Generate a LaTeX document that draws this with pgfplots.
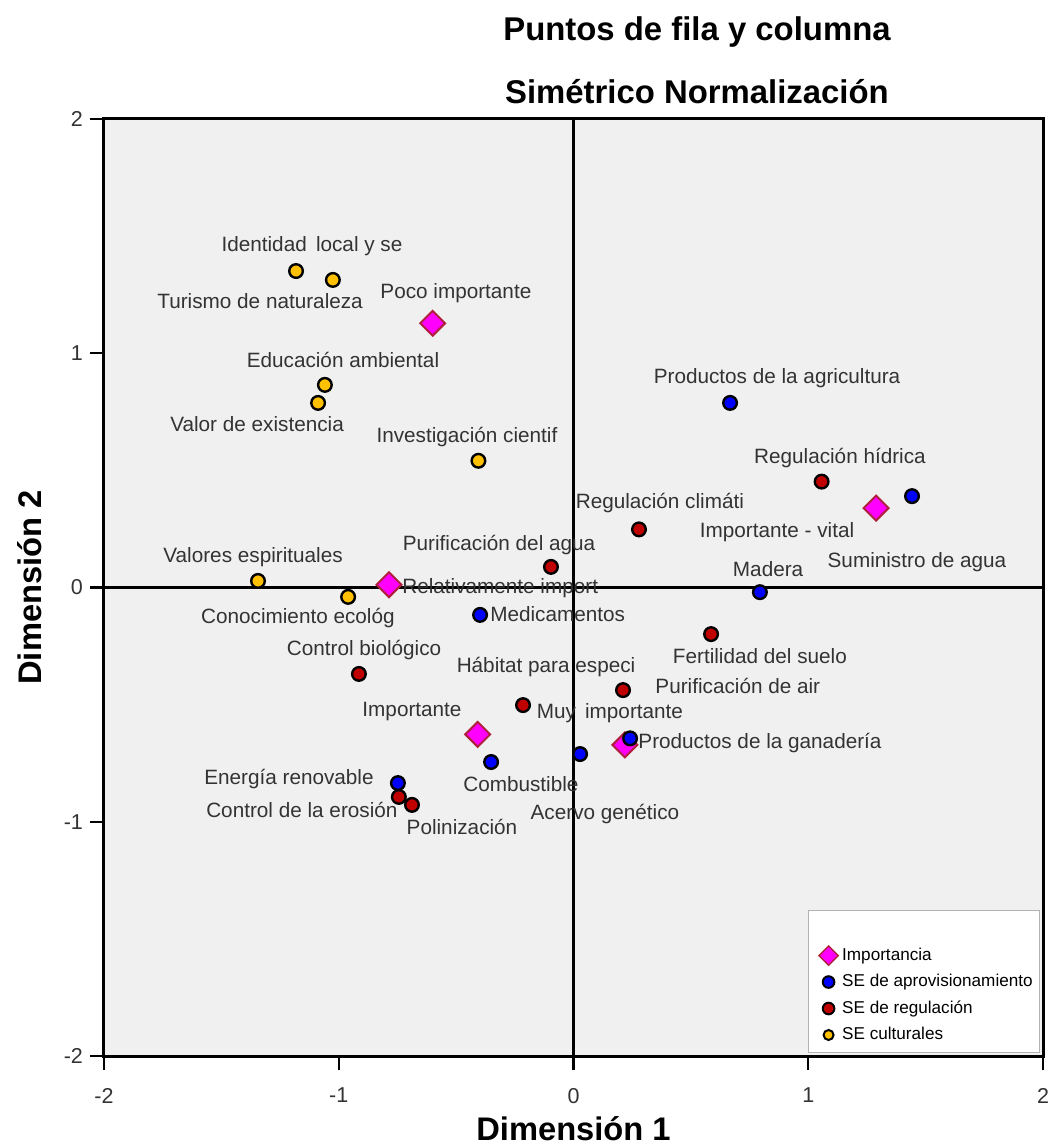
\documentclass[border=0pt]{standalone}
\usepackage{fontspec}
\setmainfont{Liberation Sans}
\usepackage{pgfplots}
\pgfplotsset{compat=1.18}
\definecolor{bggray}{HTML}{F0F0F0}
\definecolor{mkblue}{HTML}{0000FF}
\definecolor{mkred}{HTML}{C00000}
\definecolor{mkyellow}{HTML}{FFC000}
\definecolor{mkmag}{HTML}{FF00FF}
\definecolor{mkborder}{HTML}{B0203C}
\definecolor{lbl}{HTML}{333333}
\tikzset{lblnode/.style={font=\fontsize{10.4}{12}\selectfont, text=lbl, inner sep=0pt}}
\begin{document}
\begin{tikzpicture}
\path[use as bounding box] (-52bp,-45.5bp) rectangle (474bp,528bp);
\begin{axis}[
  width=469.5bp, height=468.5bp, scale only axis,
  xmin=-2, xmax=2, ymin=-2, ymax=2,
  axis background/.style={fill=bggray},
  axis line style={line width=1.5bp},
  xtick={-2,-1,0,1,2}, xticklabels={-2,-1,0,1,2},
  ytick={-2,-1,0,1,2}, yticklabels={-2,-1,0,1,2},
  tick align=outside, xtick pos=left, ytick pos=left,
  major tick length=7bp,
  tick style={line width=1.2bp, black},
  ticklabel style={font=\fontsize{10.8}{12}\selectfont, text=lbl},
  xticklabel style={yshift=-5.5bp},
  xlabel={Dimensión 1}, ylabel={Dimensión 2},
  label style={font=\bfseries\fontsize{16.4}{19}\selectfont},
  xlabel style={at={(axis description cs:0.5,-0.0775)}, anchor=center},
  ylabel style={at={(axis description cs:-0.0788,0.5)}, anchor=center},
  clip=false,
  legend cell align=left,
  legend style={at={(rel axis cs:0.997,0.003)}, anchor=south east,
    draw=gray!60, fill=white, line width=0.5bp,
    font=\fontsize{8.6}{10}\selectfont, row sep=1.5bp,
    inner xsep=1.5bp, inner ysep=3bp},
]
% zero lines
\addplot[black, line width=1.2bp, forget plot] coordinates {(-2,0) (2,0)};
\addplot[black, line width=1.2bp, forget plot] coordinates {(0,-2) (0,2)};

% legend images
\addlegendimage{empty legend}\addlegendentry{\rule{0pt}{7bp}}
\addlegendimage{only marks, mark=square*, mark size=3.4bp, mark options={rotate=45, fill=mkmag, draw=mkborder, line width=0.7bp}}\addlegendentry{Importancia}
\addlegendimage{only marks, mark=*, mark size=2.9bp, mark options={fill=mkblue, draw=black, line width=1bp}}\addlegendentry{SE de aprovisionamiento}
\addlegendimage{only marks, mark=*, mark size=2.9bp, mark options={fill=mkred, draw=black, line width=1bp}}\addlegendentry{SE de regulación}
\addlegendimage{only marks, mark=*, mark size=2.5bp, mark options={fill=mkyellow, draw=black, line width=1bp}}\addlegendentry{SE culturales}

% Importancia
\addplot[only marks, mark=square*, mark size=4.4bp, mark options={rotate=45, fill=mkmag, draw=mkborder, line width=1bp}, forget plot]
 coordinates {(-0.600,1.128) (-0.786,0.012) (-0.408,-0.627) (0.219,-0.672) (1.289,0.339)};
% SE de aprovisionamiento
\addplot[only marks, mark=*, mark size=3.4bp, mark options={fill=mkblue, draw=black, line width=1.2bp}, forget plot]
 coordinates {(0.667,0.788) (1.442,0.390) (0.794,-0.020) (-0.398,-0.117) (0.241,-0.644) (0.028,-0.711) (-0.351,-0.745) (-0.748,-0.835)};
% SE de regulacion
\addplot[only marks, mark=*, mark size=3.4bp, mark options={fill=mkred, draw=black, line width=1.2bp}, forget plot]
 coordinates {(1.057,0.452) (0.279,0.248) (-0.096,0.088) (0.586,-0.199) (0.211,-0.438) (-0.215,-0.502) (-0.914,-0.369) (-0.744,-0.894) (-0.688,-0.928)};
% SE culturales
\addplot[only marks, mark=*, mark size=3.4bp, mark options={fill=mkyellow, draw=black, line width=1.2bp}, forget plot]
 coordinates {(-1.182,1.351) (-1.025,1.313) (-1.059,0.865) (-1.088,0.788) (-0.405,0.541) (-1.344,0.028) (-0.960,-0.040)};

% titles
\node[font=\bfseries\fontsize{16.5}{19}\selectfont] at (axis description cs:0.6315,1.0928) {Puntos de fila y columna};
\node[font=\bfseries\fontsize{16.5}{19}\selectfont] at (axis description cs:0.6315,1.0288) {Simétrico Normalización};

% point labels
\node[lblnode] at (axis cs:-1.114,1.458) {Identidad\, local y se};
\node[lblnode] at (axis cs:-1.335,1.223) {Turismo de naturaleza};
\node[lblnode] at (axis cs:-0.501,1.257) {Poco importante};
\node[lblnode] at (axis cs:-0.982,0.971) {Educación ambiental};
\node[lblnode] at (axis cs:-1.348,0.698) {Valor de existencia};
\node[lblnode] at (axis cs:-0.454,0.643) {Investigación cientif};
\node[lblnode] at (axis cs:-1.365,0.130) {Valores espirituales};
\node[lblnode] at (axis cs:-0.317,0.181) {Purificación del agua};
\node[lblnode, anchor=west] at (axis cs:-0.731,-0.002) {Relativamente import};
\node[lblnode] at (axis cs:-1.174,-0.130) {Conocimiento ecológ};
\node[lblnode, anchor=west] at (axis cs:-0.356,-0.113) {Medicamentos};
\node[lblnode] at (axis cs:-0.892,-0.267) {Control biológico};
\node[lblnode] at (axis cs:-0.117,-0.339) {Hábitat para especi};
\node[lblnode] at (axis cs:-0.688,-0.531) {Importante};
\node[lblnode] at (axis cs:0.155,-0.536) {Muy\, importante};
\node[lblnode, anchor=west] at (axis cs:0.275,-0.664) {Productos de la ganadería};
\node[lblnode] at (axis cs:-1.212,-0.818) {Energía renovable};
\node[lblnode] at (axis cs:-0.224,-0.839) {Combustible};
\node[lblnode] at (axis cs:-1.157,-0.950) {Control de la erosión};
\node[lblnode] at (axis cs:0.134,-0.967) {Acervo genético};
\node[lblnode] at (axis cs:-0.475,-1.022) {Polinización};
\node[lblnode] at (axis cs:0.867,0.894) {Productos de la agricultura};
\node[lblnode] at (axis cs:1.135,0.553) {Regulación hídrica};
\node[lblnode] at (axis cs:0.368,0.361) {Regulación climáti};
\node[lblnode] at (axis cs:0.867,0.237) {Importante - vital};
\node[lblnode] at (axis cs:0.829,0.079) {Madera};
\node[lblnode] at (axis cs:1.463,0.109) {Suministro de agua};
\node[lblnode] at (axis cs:0.794,-0.292) {Fertilidad del suelo};
\node[lblnode] at (axis cs:0.700,-0.420) {Purificación de air};
\end{axis}
\end{tikzpicture}
\end{document}
